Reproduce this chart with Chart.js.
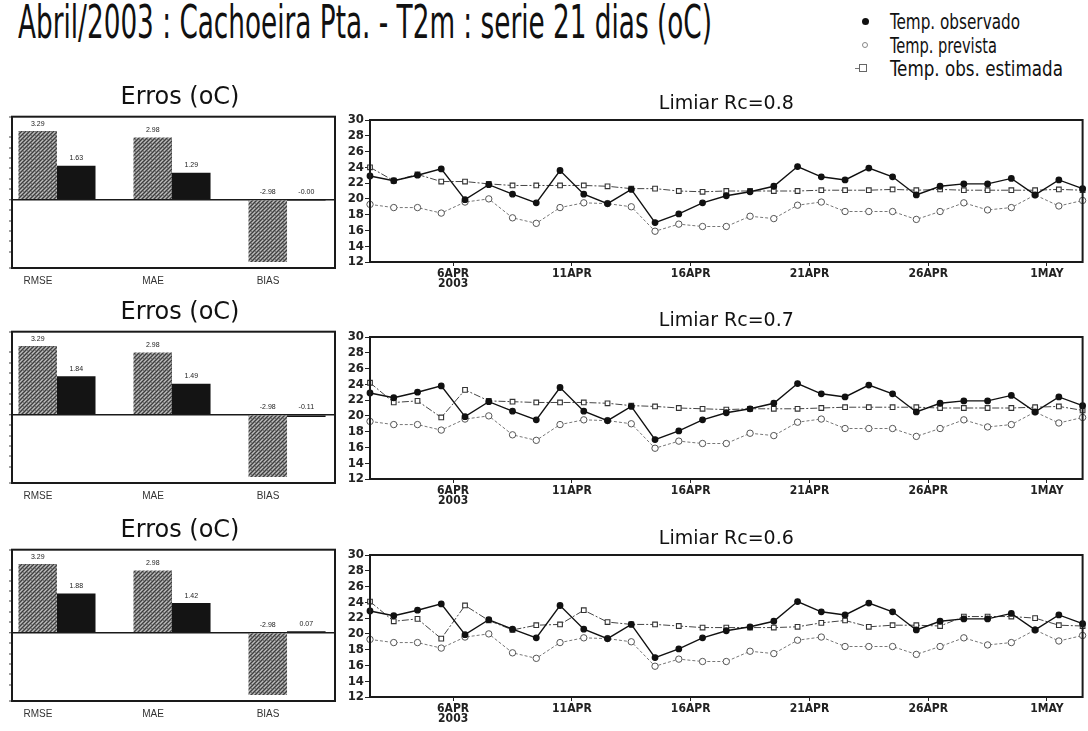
<!DOCTYPE html>
<html><head><meta charset="utf-8">
<script src="https://cdn.jsdelivr.net/npm/chart.js@4.4.1/dist/chart.umd.min.js"></script>
<style>
html,body{margin:0;padding:0;background:#fff;}
#wrap{position:relative;width:1088px;height:731px;overflow:hidden;background:#fff;}
canvas{position:absolute;}
.t{position:absolute;white-space:nowrap;transform-origin:0 0;color:#111;font-family:'Liberation Sans Narrow','DejaVu Sans Condensed','Liberation Sans',sans-serif;}
.mk{position:absolute;box-sizing:border-box;}
</style></head><body><div id="wrap">
<div id="mainTitle" class="t" data-w="694" style="left:18px;top:-1px;font-size:46px;line-height:46px">Abril/2003 : Cachoeira Pta. - T2m : serie 21 dias (oC)</div>
<div class="mk" style="left:862px;top:18px;width:7px;height:7px;border-radius:50%;background:#111"></div>
<div class="t" data-w="130" style="left:890px;top:11px;font-size:22px;line-height:22px">Temp. observado</div>
<div class="mk" style="left:862px;top:42px;width:6px;height:6px;border-radius:50%;border:1px solid #888;background:#fff"></div>
<div class="t" data-w="107" style="left:890px;top:35px;font-size:22px;line-height:22px">Temp. prevista</div>
<div class="mk" style="left:855px;top:68px;width:5px;height:1px;background:#777"></div>
<div class="mk" style="left:859px;top:64px;width:8px;height:8px;border:1px solid #666;background:#fff"></div>
<div class="t" data-w="173" style="left:890px;top:58px;font-size:22px;line-height:22px">Temp. obs. estimada</div>
</div>
<script>
// ---------- data ----------
const times = ['12Z02APR','12Z03APR','12Z04APR','12Z05APR','12Z06APR','12Z07APR','12Z08APR','12Z09APR','12Z10APR','12Z11APR',
  '12Z12APR','12Z13APR','12Z14APR','12Z15APR','12Z16APR','12Z17APR','12Z18APR','12Z19APR','12Z20APR','12Z21APR',
  '12Z22APR','12Z23APR','12Z24APR','12Z25APR','12Z26APR','12Z27APR','12Z28APR','12Z29APR','12Z30APR','12Z01MAY','12Z02MAY'];
const tickPositions = [3.5, 8.5, 13.5, 18.5, 23.5, 28.5];
const tickLabels = [['6APR','2003'], '11APR', '16APR', '21APR', '26APR', '1MAY'];
const yTicksMinMax = [12, 30];

const tempObservada = [22.9,22.3,23.0,23.8,19.9,21.8,20.6,19.5,23.6,20.6,19.4,21.2,17.0,18.1,19.5,
  20.4,20.9,21.6,24.1,22.8,22.4,23.9,22.8,20.5,21.6,21.9,21.9,22.6,20.5,22.4,21.3];
const tempPrevista = [19.3,18.9,18.9,18.2,19.6,20.0,17.6,16.9,18.9,19.5,19.4,19.0,15.9,16.8,16.5,
  16.5,17.8,17.5,19.2,19.6,18.4,18.4,18.4,17.4,18.4,19.5,18.6,18.9,20.5,19.1,19.8];
const estimadaRc08 = [24.0,22.3,23.1,22.2,22.2,21.9,21.7,21.7,21.7,21.7,21.6,21.3,21.3,21.0,20.9,
  21.0,21.0,21.0,21.0,21.1,21.1,21.1,21.2,21.1,21.2,21.1,21.1,21.1,21.1,21.2,21.1];
const estimadaRc07 = [24.2,21.7,21.9,19.8,23.3,21.9,21.8,21.7,21.7,21.7,21.6,21.3,21.2,21.0,20.9,
  20.8,20.9,20.9,20.9,21.0,21.1,21.1,21.1,21.1,21.0,21.0,21.0,21.0,21.1,21.2,20.7];
const estimadaRc06 = [24.1,21.6,21.9,19.4,23.6,21.7,20.5,21.1,21.2,23.0,21.5,21.2,21.2,21.0,20.8,
  20.8,20.8,20.8,20.9,21.4,21.7,20.9,21.1,21.1,21.0,22.2,22.2,22.2,22.0,21.1,21.0];

const errCategories = ['RMSE', 'MAE', 'BIAS'];
const errPrevista = [3.29, 2.98, -2.98];
const errEstimadaRc08 = [1.63, 1.29, -0.004];
const errEstimadaRc07 = [1.84, 1.49, -0.11];
const errEstimadaRc06 = [1.88, 1.42, 0.07];
const limiares = ['0.8', '0.7', '0.6'];

// ---------- helpers ----------
Chart.defaults.font.family = "'DejaVu Sans', sans-serif";
Chart.defaults.color = '#222';

const frame = { id: 'frame', afterDraw(chart) {
  const a = chart.chartArea, c = chart.ctx;
  c.save(); c.strokeStyle = '#1a1a1a'; c.lineWidth = 2;
  c.strokeRect(a.left, a.top, a.right - a.left, a.bottom - a.top); c.restore();
}};
const barLabels = { id: 'barLabels', afterDatasetsDraw(chart) {
  const c = chart.ctx; c.save();
  c.font = "7px 'Liberation Sans', sans-serif"; c.fillStyle = '#222';
  c.textAlign = 'center'; c.textBaseline = 'bottom';
  chart.data.datasets.forEach((ds, di) => {
    chart.getDatasetMeta(di).data.forEach((el, i) => {
      const v = ds.data[i].y;
      const y = v >= 0 ? el.y - 4 : el.base - 5;
      c.fillText(v.toFixed(2), el.x, y);
    });
  });
  c.restore();
}};

function stipple() {
  const p = document.createElement('canvas'); p.width = 4; p.height = 4;
  const g = p.getContext('2d');
  g.fillStyle = '#7c7c7c'; g.fillRect(0, 0, 4, 4);
  g.fillStyle = '#3e3e3e'; g.fillRect(0, 0, 1, 1); g.fillRect(2, 2, 1, 1); g.fillRect(3, 1, 1, 1); g.fillRect(1, 3, 1, 1);
  g.fillStyle = '#bdbdbd'; g.fillRect(2, 0, 1, 1); g.fillRect(0, 2, 1, 1); g.fillRect(1, 1, 1, 1);
  return g.createPattern(p, 'repeat');
}

function addCanvas(left, top, w, h) {
  const cv = document.createElement('canvas');
  cv.width = w; cv.height = h;
  cv.style.left = left + 'px'; cv.style.top = top + 'px';
  cv.style.width = w + 'px'; cv.style.height = h + 'px';
  document.getElementById('wrap').appendChild(cv);
  return cv;
}

function barChart(top, estVals) {
  const cv = addCanvas(0, top, 360, 210);
  new Chart(cv, {
    type: 'bar',
    data: { datasets: [
      { label: 'Temp. prevista', data: errCategories.map((c, i) => ({ x: i, y: errPrevista[i] })), backgroundColor: stipple(), borderWidth: 0 },
      { label: 'Temp. obs. estimada', data: errCategories.map((c, i) => ({ x: i, y: estVals[i] })), backgroundColor: '#141414', borderWidth: 0 }
    ]},
    options: {
      responsive: false, animation: false, devicePixelRatio: 1, events: [],
      categoryPercentage: 0.67, barPercentage: 1,
      layout: { padding: 0 },
      plugins: {
        legend: { display: false }, tooltip: { enabled: false },
        title: { display: true, text: 'Erros (oC)', fullSize: true, color: '#111',
          font: { size: 24, weight: 'normal', family: "'DejaVu Sans', sans-serif" }, padding: { top: 3.1, bottom: 4.8 } }
      },
      scales: {
        x: { type: 'linear', min: -0.391, max: 2.417, offset: false, bounds: 'data',
          afterBuildTicks: s => { s.ticks = errCategories.map((c, i) => ({ value: i })); },
          afterFit: s => { s.height = 22; },
          ticks: { callback: (v, i) => errCategories[i], labelOffset: -19, autoSkip: false, maxRotation: 0,
            font: { size: 10, family: "'Liberation Sans', sans-serif" }, color: '#333', padding: 7 },
          grid: { display: false, offset: false, drawTicks: false, tickLength: 0 }, border: { display: false } },
        y: { min: -3.27, max: 3.98,
          afterFit: s => { s.width = 12; },
          ticks: { display: false, stepSize: 0.5 },
          grid: { color: c => (c.tick && c.tick.value === 0) ? '#1a1a1a' : 'rgba(0,0,0,0)',
            lineWidth: c => (c.tick && c.tick.value === 0) ? 1.5 : 0,
            tickColor: '#444', tickWidth: 1, tickLength: 3 },
          border: { display: false } },
        ySpace: { axis: 'y', position: 'right', min: 0, max: 1,
          afterFit: s => { s.width = 25; },
          ticks: { display: false }, grid: { display: false, drawTicks: false }, border: { display: false } }
      }
    },
    plugins: [frame, barLabels]
  });
}

function lineChart(top, estVals, rc) {
  const cv = addCanvas(330, top, 758, 208);
  new Chart(cv, {
    type: 'line',
    data: { labels: times, datasets: [
      { label: 'Temp. observado', data: tempObservada, order: 1, clip: false,
        borderColor: '#111', borderWidth: 1.4, pointRadius: 2.7, pointBackgroundColor: '#111', pointBorderColor: '#111', pointStyle: 'circle' },
      { label: 'Temp. obs. estimada', data: estVals, order: 2, clip: false,
        borderColor: '#444', borderWidth: 1, borderDash: [7, 2, 2, 2], pointRadius: 3.3, pointStyle: 'rect',
        pointBackgroundColor: '#fff', pointBorderColor: '#333', pointBorderWidth: 1.1 },
      { label: 'Temp. prevista', data: tempPrevista, order: 3, clip: false,
        borderColor: '#777', borderWidth: 1, borderDash: [3, 2], pointRadius: 3.2, pointStyle: 'circle',
        pointBackgroundColor: '#fff', pointBorderColor: '#555', pointBorderWidth: 1 }
    ]},
    options: {
      responsive: false, animation: false, devicePixelRatio: 1, events: [],
      layout: { padding: { right: 1, left: 0, top: 0, bottom: 0 } },
      plugins: {
        legend: { display: false }, tooltip: { enabled: false },
        title: { display: true, text: 'Limiar Rc=' + rc, fullSize: false, color: '#111',
          font: { size: 19, weight: 'normal', family: "'DejaVu Sans', sans-serif" }, padding: { top: 8.6, bottom: 4.6 } }
      },
      scales: {
        x: { type: 'category', offset: false,
          afterBuildTicks: s => { s.ticks = tickPositions.map(v => ({ value: v })); },
          afterFit: s => { s.height = 30; },
          ticks: { callback: (v, i) => tickLabels[i], autoSkip: false, maxRotation: 0, padding: 2,
            font: { size: 12, weight: 'bold', lineHeight: 0.9, family: "'DejaVu Sans Condensed','Liberation Sans Narrow',sans-serif" }, color: '#222' },
          grid: { drawOnChartArea: false, tickLength: 4, tickColor: '#222' }, border: { display: false } },
        y: { min: yTicksMinMax[0], max: yTicksMinMax[1],
          afterFit: s => { s.width = 40; },
          ticks: { stepSize: 2, padding: 1, color: '#222', autoSkip: false,
            font: { size: 13, weight: 'bold', lineHeight: 1, family: "'DejaVu Sans Condensed','Liberation Sans Narrow',sans-serif" } },
          grid: { drawOnChartArea: false, tickLength: 5, tickColor: '#222' }, border: { display: false } }
      }
    },
    plugins: [frame]
  });
}

function fitTexts() {
  document.querySelectorAll('.t[data-w]').forEach(el => {
    const w = el.getBoundingClientRect().width;
    const target = parseFloat(el.dataset.w);
    if (w > 0) el.style.transform = 'scaleX(' + (target / w) + ')';
  });
}

const estSeries = [estimadaRc08, estimadaRc07, estimadaRc06];
const estErrors = [errEstimadaRc08, errEstimadaRc07, errEstimadaRc06];
const barTops = [80, 295, 513.3];
const lineTops = [84, 301, 519];

function build() {
  fitTexts();
  for (let p = 0; p < 3; p++) {
    barChart(barTops[p], estErrors[p]);
    lineChart(lineTops[p], estSeries[p], limiares[p]);
  }
}
if (document.fonts && document.fonts.ready) document.fonts.ready.then(build); else build();
</script>
</body></html>
